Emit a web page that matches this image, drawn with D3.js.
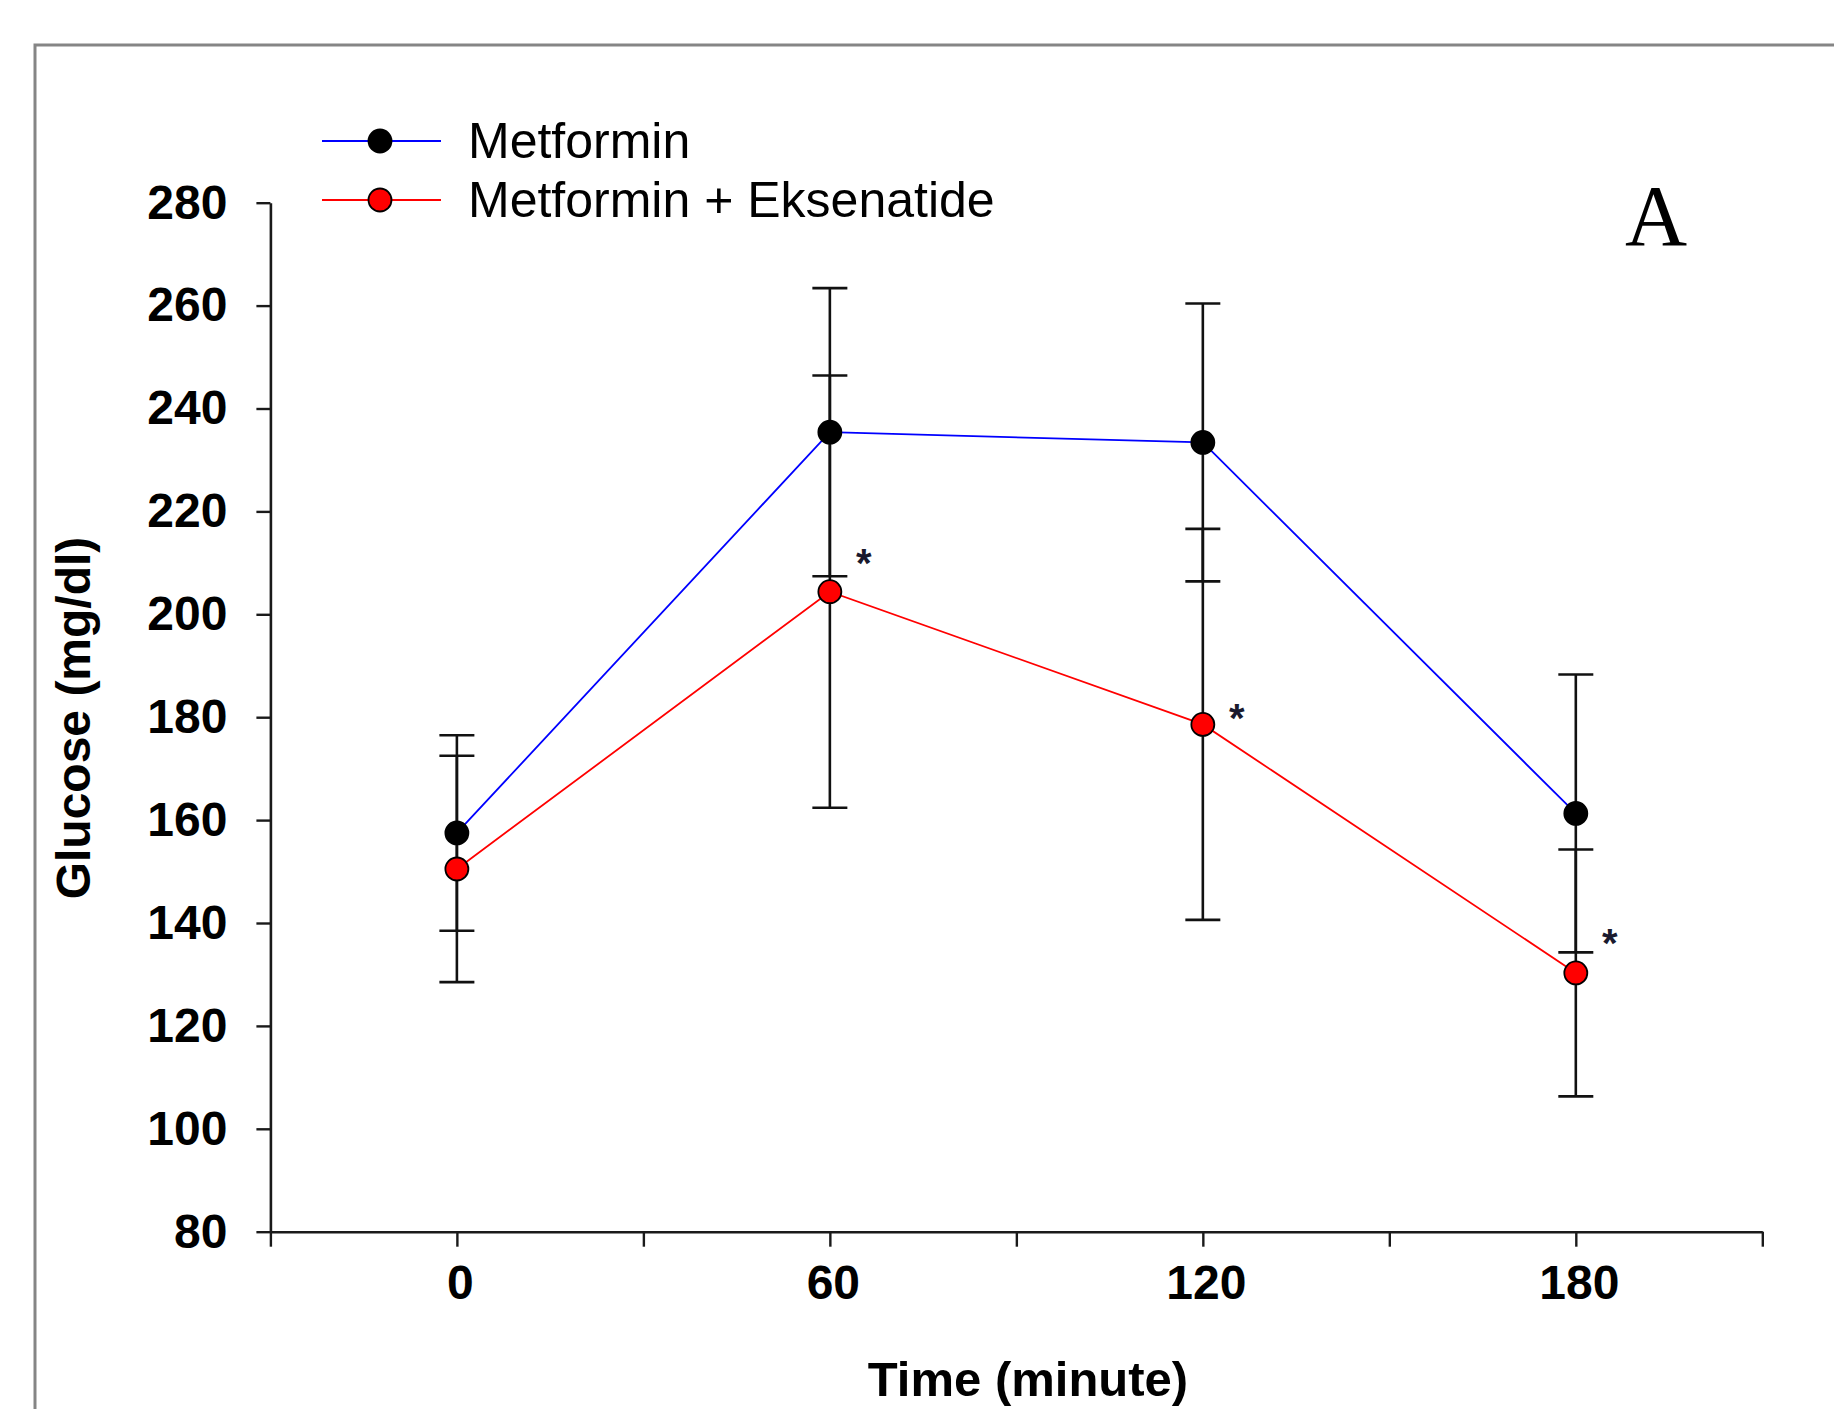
<!DOCTYPE html>
<html>
<head>
<meta charset="utf-8">
<script src="https://cdn.jsdelivr.net/npm/d3@7"></script>
<style>
  html, body { margin: 0; padding: 0; background: #fff; }
  svg { display: block; }
</style>
</head>
<body>
<script>
// ---- Data ----
const times = [0, 60, 120, 180];
const metforminMean = [157.5, 235.4, 233.4, 161.3];
const metforminErr = [19, 28, 27, 27];
const comboMean = [150.5, 204.4, 178.6, 130.3];
const comboErr = [22, 42, 38, 24];
const starTimes = [60, 120, 180];
const starValues = [211.7, 181.5, 137.7];
const xTicks = [-30, 0, 30, 60, 90, 120, 150, 180, 210];
const xTickLabels = ["", "0", "", "60", "", "120", "", "180", ""];
const yTicks = [80, 100, 120, 140, 160, 180, 200, 220, 240, 260, 280];
const seriesNames = ["Metformin", "Metformin + Eksenatide"];
const xTitle = "Time (minute)";
const yTitle = "Glucose (mg/dl)";
const panelLabel = "A";

// ---- Layout ----
const W = 1834, H = 1409;
const sans = "'Liberation Sans', Arial, Helvetica, sans-serif";
const serif = "'Liberation Serif', 'Times New Roman', serif";

const svg = d3.select("body").append("svg")
  .attr("width", W).attr("height", H)
  .attr("viewBox", `0 0 ${W} ${H}`);

svg.append("rect").attr("width", W).attr("height", H).attr("fill", "#fff");

// frame
svg.append("path")
  .attr("d", `M35,${H} V45 H${W}`)
  .attr("fill", "none").attr("stroke", "#858585").attr("stroke-width", 3);

const x = d3.scaleLinear().domain([-30, 210]).range([270.4, 1762.3]);
const y = d3.scaleLinear().domain([80, 280]).range([1231.7, 202.7]);

// axes
const xAxis = d3.axisBottom(x).tickValues(xTicks)
  .tickFormat((d, i) => xTickLabels[i])
  .tickSizeInner(15).tickSizeOuter(0).tickPadding(18);
const yAxis = d3.axisLeft(y).tickValues(yTicks)
  .tickFormat(d3.format("d"))
  .tickSizeInner(14).tickSizeOuter(0).tickPadding(29);

const gx = svg.append("g").attr("transform", `translate(0,${y(80)})`).call(xAxis);
const gy = svg.append("g").attr("transform", `translate(${x(-30)},0)`).call(yAxis);

[gx, gy].forEach(g => {
  g.select(".domain").attr("stroke", "#1a1a1a").attr("stroke-width", 2.6);
  g.selectAll(".tick line").attr("stroke", "#1a1a1a").attr("stroke-width", 2.4);
  g.selectAll(".tick text")
    .attr("font-family", sans).attr("font-weight", "bold")
    .attr("font-size", 48).attr("fill", "#000");
});
gx.selectAll(".tick text").attr("dx", 3);

// axis titles
svg.append("text")
  .attr("x", 1028).attr("y", 1396)
  .attr("text-anchor", "middle")
  .attr("font-family", sans).attr("font-weight", "bold").attr("font-size", 49)
  .text(xTitle);

svg.append("text")
  .attr("transform", `translate(90,718) rotate(-90)`)
  .attr("text-anchor", "middle")
  .attr("font-family", sans).attr("font-weight", "bold").attr("font-size", 48)
  .text(yTitle);

// panel label
svg.append("text")
  .attr("x", 1656).attr("y", 245)
  .attr("text-anchor", "middle")
  .attr("font-family", serif).attr("font-size", 86)
  .text(panelLabel);

// series
const series = [
  { name: seriesNames[0], mean: metforminMean, err: metforminErr, line: "#0000ff", fill: "#000000" },
  { name: seriesNames[1], mean: comboMean, err: comboErr, line: "#ff0000", fill: "#ff0000" }
];

const lineGen = d3.line().x(d => x(d[0])).y(d => y(d[1]));

// lines
series.forEach(s => {
  svg.append("path")
    .datum(times.map((t, i) => [t, s.mean[i]]))
    .attr("d", lineGen)
    .attr("fill", "none").attr("stroke", s.line).attr("stroke-width", 1.8);
});

// error bars
const capHalf = 17.5;
series.forEach(s => {
  const g = svg.append("g").attr("stroke", "#111").attr("stroke-width", 2.6);
  times.forEach((t, i) => {
    const cx = x(t), top = y(s.mean[i] + s.err[i]), bot = y(s.mean[i] - s.err[i]);
    g.append("line").attr("x1", cx).attr("x2", cx).attr("y1", top).attr("y2", bot);
    g.append("line").attr("x1", cx - capHalf).attr("x2", cx + capHalf).attr("y1", top).attr("y2", top);
    g.append("line").attr("x1", cx - capHalf).attr("x2", cx + capHalf).attr("y1", bot).attr("y2", bot);
  });
});

// markers
series.forEach(s => {
  svg.append("g").selectAll("circle")
    .data(times.map((t, i) => [t, s.mean[i]]))
    .join("circle")
    .attr("cx", d => x(d[0])).attr("cy", d => y(d[1])).attr("r", 11.5)
    .attr("fill", s.fill).attr("stroke", "#000").attr("stroke-width", 1.8);
});

// significance stars
const starFs = 40;
svg.append("g").selectAll("text")
  .data(starTimes.map((t, i) => [t, starValues[i]]))
  .join("text")
  .attr("x", d => x(d[0]) + 34)
  .attr("y", d => y(d[1]) + 0.56 * starFs)
  .attr("text-anchor", "middle")
  .attr("font-family", sans).attr("font-weight", "bold").attr("font-size", starFs)
  .attr("fill", "#1a1a2e")
  .text("*");

// legend
const legendY = [141, 200];
series.forEach((s, i) => {
  const g = svg.append("g");
  g.append("line").attr("x1", 322).attr("x2", 441)
    .attr("y1", legendY[i]).attr("y2", legendY[i])
    .attr("stroke", s.line).attr("stroke-width", 2);
  g.append("circle").attr("cx", 380).attr("cy", legendY[i]).attr("r", 11.5)
    .attr("fill", s.fill).attr("stroke", "#000").attr("stroke-width", 1.8);
  g.append("text").attr("x", 468).attr("y", legendY[i] + 17)
    .attr("font-family", sans).attr("font-size", 50).attr("fill", "#000")
    .text(s.name);
});
</script>
</body>
</html>
